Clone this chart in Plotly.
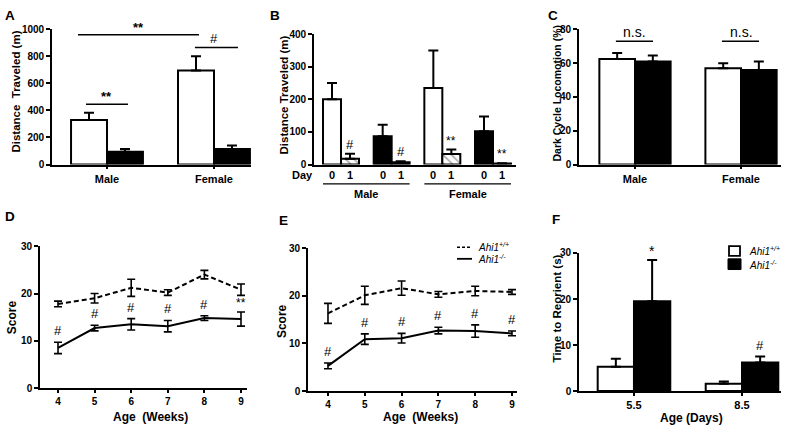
import plotly.graph_objects as go

W, H = 800, 435
FONT = "Liberation Sans, Arial, sans-serif"

# ---------------- data ----------------
# Panel A: distance traveled (m)
sex_cats = ["Male", "Female"]
a_wt = [330, 695]
a_wt_err = [53, 105]
a_ko = [95, 115]
a_ko_err = [20, 25]

# Panel B: distance traveled (m), day 0 / day 1
b_groups = ["M_WT", "M_KO", "F_WT", "F_KO"]
b_day0 = [200, 87, 235, 102]
b_day0_err = [50, 35, 115, 45]
b_day1 = [18, 7, 32, 3]
b_day1_err = [15, 3, 14, 1]
b_day1_sig = ["#", "#", "**", "**"]
b_day_labels = ["0", "1"]
b_sex_labels = ["Male", "Female"]

# Panel C: dark cycle locomotion (%)
c_wt = [62.5, 57.0]
c_wt_err = [3.5, 3.0]
c_ko = [61.0, 56.0]
c_ko_err = [3.5, 5.0]

# Panel D: score by age (weeks)
weeks = [4, 5, 6, 7, 8, 9]
d_wt = [17.8, 19.0, 21.2, 20.2, 24.0, 20.8]
d_wt_err = [0.6, 1.0, 1.8, 0.6, 0.9, 1.2]
d_ko = [8.5, 12.7, 13.5, 13.1, 14.8, 14.6]
d_ko_err = [1.2, 0.6, 1.2, 1.2, 0.5, 1.5]
d_sig = ["#", "#", "#", "#", "#", "**"]

# Panel E: score by age (weeks)
e_wt = [16.3, 20.1, 21.6, 20.3, 21.0, 20.8]
e_wt_err = [2.1, 1.9, 1.5, 0.6, 1.0, 0.5]
e_ko = [5.3, 10.9, 11.1, 12.7, 12.6, 12.1]
e_ko_err = [0.6, 1.1, 1.0, 0.7, 1.3, 0.5]
e_sig = ["#", "#", "#", "#", "#", "#"]

# Panel F: time to reorient (s)
ages = ["5.5", "8.5"]
f_wt = [5.3, 1.6]
f_wt_err = [1.7, 0.5]
f_ko = [19.5, 6.2]
f_ko_err = [9.0, 1.3]
f_sig = ["*", "#"]

legend_labels = ["<i>Ahi1</i><sup>+/+</sup>", "<i>Ahi1</i><sup>-/-</sup>"]

# ---------------- helpers ----------------
def px(p):
    return p / W

def py(p):
    return 1 - p / H

def upper(err):
    return dict(type="data", array=err, arrayminus=[0] * len(err), symmetric=False,
                color="black", thickness=2, width=5)

BW = 0.336      # bar width (category units) panels A, C, F
BWB = 0.355     # bar width panel B

fig = go.Figure()

def bar(x, y, err, color, xa, ya, off, w, pattern=None):
    marker = dict(color=color, line=dict(color="black", width=2))
    if pattern is not None:
        marker["pattern"] = pattern
    fig.add_trace(go.Bar(x=x, y=y, offset=off, width=w, marker=marker,
                         error_y=upper(err), xaxis=xa, yaxis=ya, cliponaxis=False,
                         showlegend=False, hoverinfo="x+y"))

# A
bar(sex_cats, a_wt, a_wt_err, "white", "x", "y", -BW, BW)
bar(sex_cats, a_ko, a_ko_err, "black", "x", "y", 0, BW)
# B
bar(b_groups, b_day0, b_day0_err, ["white", "black", "white", "black"], "x2", "y2", -BWB, BWB)
bar(b_groups, b_day1, b_day1_err, ["white", "black", "white", "black"], "x2", "y2", 0, BWB,
    pattern=dict(shape=["\\", "", "\\", ""], fgcolor="black", size=6, solidity=0.25,
                 fillmode="overlay"))
# C
bar(sex_cats, c_wt, c_wt_err, "white", "x3", "y3", -BW, BW)
bar(sex_cats, c_ko, c_ko_err, "black", "x3", "y3", 0, BW)
# F
bar(ages, f_wt, f_wt_err, "white", "x6", "y6", -BW, BW)
bar(ages, f_ko, f_ko_err, "black", "x6", "y6", 0, BW)

# D, E lines
def line(y, err, dash, xa, ya):
    fig.add_trace(go.Scatter(x=weeks, y=y, mode="lines",
                             line=dict(color="black", width=2, dash=dash),
                             error_y=dict(type="data", array=err, color="black",
                                          thickness=1.6, width=4),
                             xaxis=xa, yaxis=ya, showlegend=False))

line(d_wt, d_wt_err, "5px,3px", "x4", "y4")
line(d_ko, d_ko_err, "solid", "x4", "y4")
line(e_wt, e_wt_err, "5px,3px", "x5", "y5")
line(e_ko, e_ko_err, "solid", "x5", "y5")

# ---------------- axes ----------------
tickf = dict(family=FONT, size=10, color="black", weight="bold")
xtickf = dict(family=FONT, size=11, color="black", weight="bold")

def yax(dom_px, rng, dtick):
    return dict(domain=[py(dom_px[0]), py(dom_px[1])], range=rng, dtick=dtick,
                showline=True, linecolor="black", linewidth=1.6, ticks="outside",
                ticklen=4, tickwidth=1.6, tickcolor="black", showgrid=False,
                zeroline=False, tickfont=tickf, fixedrange=True)

def xax(dom_px, rng, cat=True, showticks=True, dtick=None):
    d = dict(domain=[px(dom_px[0]), px(dom_px[1])], range=rng,
             showline=True, linecolor="black", linewidth=1.6,
             ticks="outside" if showticks else "", ticklen=3, tickwidth=1.6,
             tickcolor="black", showgrid=False, zeroline=False,
             tickfont=xtickf, fixedrange=True, showticklabels=showticks)
    if cat:
        d["type"] = "category"
    else:
        d["dtick"] = dtick
        d["tickfont"] = dict(family=FONT, size=10, color="black", weight="bold")
    return d

fig.update_layout(
    xaxis=dict(xax((52, 251), [-0.514, 1.346]), anchor="y"),
    yaxis=dict(yax((163, 24), [0, 1000], 200), anchor="x"),
    xaxis2=dict(xax((314, 516), [-0.533, 3.454], showticks=False), anchor="y2"),
    yaxis2=dict(yax((163, 29), [0, 400], 100), anchor="x2"),
    xaxis3=dict(xax((579, 781), [-0.528, 1.377]), anchor="y3"),
    yaxis3=dict(yax((163, 24), [0, 80], 20), anchor="x3"),
    xaxis4=dict(xax((40, 247), [3.508, 9.164], cat=False, dtick=1), anchor="y4"),
    yaxis4=dict(yax((393, 247), [0, 30], 10), anchor="x4"),
    xaxis5=dict(xax((308, 517), [3.457, 9.136], cat=False, dtick=1), anchor="y5"),
    yaxis5=dict(yax((396, 249), [0, 30], 10), anchor="x5"),
    xaxis6=dict(xax((579, 781), [-0.509, 1.361]), anchor="y6"),
    yaxis6=dict(yax((396, 254), [0, 30], 10), anchor="x6"),
)

# ---------------- annotations & shapes ----------------
ann = []
shp = []

def text(x, y, t, size=12, bold=True, angle=0, xref="paper", yref="paper",
         xanchor="center", yanchor="middle", yshift=0, italic=False):
    ann.append(dict(x=x, y=y, text=t, showarrow=False, xref=xref, yref=yref,
                    xanchor=xanchor, yanchor=yanchor, textangle=angle, yshift=yshift,
                    font=dict(family=FONT, size=size, color="black",
                              weight="bold" if bold else "normal",
                              style="italic" if italic else "normal")))

def hline(x0, x1, y, xref="paper", yref="paper", width=1.5, dash="solid"):
    shp.append(dict(type="line", x0=x0, x1=x1, y0=y, y1=y, xref=xref, yref=yref,
                    line=dict(color="black", width=width, dash=dash)))

# panel letters
for letter, (lx, ly) in zip("ABCDEF", [(3, 0), (268, 0), (546, 0), (3, 207), (277, 211), (550, 210)]):
    text(px(lx), py(ly), letter, size=13.5, xanchor="left", yanchor="top")

# y titles
text(px(16), py(88), "Distance\u00a0 Traveled (m)", size=11.5, angle=-90)
text(px(284), py(92), "Distance Traveled (m)", size=11.5, angle=-90)
text(px(557), py(90), "Dark Cycle Locomotion (%)", size=10.5, angle=-90)
text(px(12), py(320), "Score", size=12, angle=-90)
text(px(282), py(324), "Score", size=12, angle=-90)
text(px(557), py(311), "Time to Reorient (s)", size=11.5, angle=-90)

# x titles
text(px(150), py(423), "Age\u00a0 (Weeks)")
text(px(420), py(423), "Age\u00a0 (Weeks)")
text(px(691), py(424), "Age (Days)")

# Panel A significance
hline(-0.196, 0.196, 445, "x", "y")
text(0, 445, "**", size=13, xref="x", yref="y", yanchor="bottom", yshift=-2)
hline(-0.271, 0.86, 960, "x", "y")
text(0.29, 960, "**", size=13, xref="x", yref="y", yanchor="bottom", yshift=-2)
hline(0.822, 1.224, 865, "x", "y")
text(1.0, 865, "#", size=13, bold=False, xref="x", yref="y", yanchor="bottom")

# Panel B significance
for i, s in enumerate(b_day1_sig):
    text(i + BWB / 2, b_day1[i] + b_day1_err[i], s, size=13 if s == "#" else 12,
         bold=False, xref="x2", yref="y2", yanchor="bottom", yshift=0)

# Panel B day labels & group lines
text(px(302), py(174), "Day", size=11)
for i in range(len(b_groups)):
    text(i - BWB / 2, py(174), b_day_labels[0], size=11, xref="x2")
    text(i + BWB / 2, py(174), b_day_labels[1], size=11, xref="x2")
for g, lab in enumerate(b_sex_labels):
    i0, i1 = 2 * g, 2 * g + 1
    hline(i0 - BWB, i1 + BWB, py(183), xref="x2", width=1.2)
    text((i0 + i1) / 2, py(193), lab, size=11, xref="x2")

# Panel C n.s.
for i in range(len(sex_cats)):
    hline(i - 0.18, i + 0.17, 73, "x3", "y3")
    text(i, 73, "n.s.", size=14, bold=False, xref="x3", yref="y3", yanchor="bottom", yshift=-1)

# Panel D/E significance
for xs, ys, es, sig, xr, yr in [(weeks, d_ko, d_ko_err, d_sig, "x4", "y4"),
                                (weeks, e_ko, e_ko_err, e_sig, "x5", "y5")]:
    for w, v, e, s in zip(xs, ys, es, sig):
        text(w, v + e, s, size=13 if s == "#" else 12, bold=False, xref=xr, yref=yr,
             yanchor="bottom", yshift=2 if s == "#" else 0)

# Panel F significance
for i, s in enumerate(f_sig):
    text(i + BW / 2, f_ko[i] + f_ko_err[i], s, size=13 if s == "#" else 14,
         bold=False, xref="x6", yref="y6", yanchor="bottom", yshift=2 if s == "#" else -1)

# Legend E (manual)
hline(px(457), px(472), py(248), width=1.5, dash="3px,2px")
hline(px(457), px(472), py(260), width=1.8)
text(px(476), py(248), legend_labels[0], size=10, bold=False, italic=True, xanchor="left")
text(px(476), py(260), legend_labels[1], size=10, bold=False, italic=True, xanchor="left")

# Legend F (manual)
shp.append(dict(type="rect", x0=px(729), x1=px(740), y0=py(247), y1=py(257),
                xref="paper", yref="paper", fillcolor="white",
                line=dict(color="black", width=1.8)))
shp.append(dict(type="rect", x0=px(728), x1=px(741), y0=py(260), y1=py(271),
                xref="paper", yref="paper", fillcolor="black",
                line=dict(color="black", width=1)))
text(px(747), py(252), legend_labels[0], size=10, bold=False, italic=True, xanchor="left")
text(px(747), py(266), legend_labels[1], size=10, bold=False, italic=True, xanchor="left")

fig.update_layout(
    annotations=ann, shapes=shp,
    width=W, height=H, margin=dict(l=0, r=0, t=0, b=0),
    plot_bgcolor="white", paper_bgcolor="white",
    barmode="overlay", showlegend=False,
    font=dict(family=FONT, color="black"),
)

fig.write_html("out.html", config={"displayModeBar": False},
               post_script="document.body.style.margin='0';document.body.style.overflow='hidden';")
